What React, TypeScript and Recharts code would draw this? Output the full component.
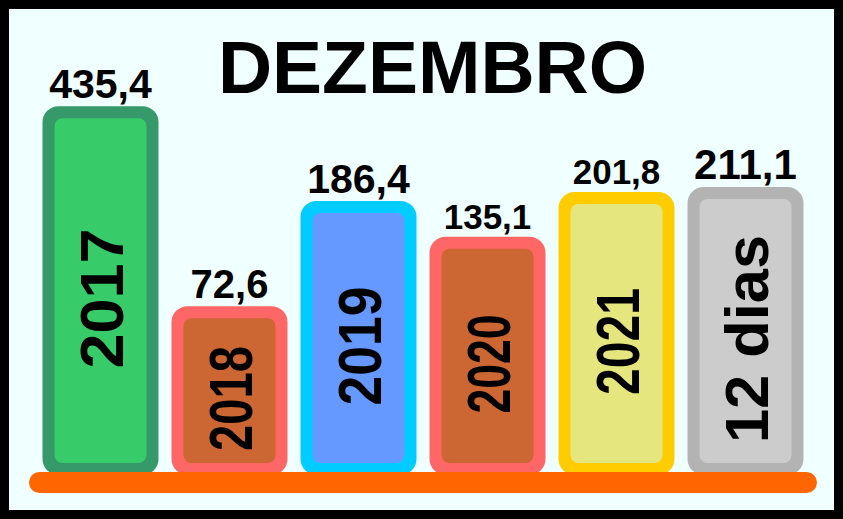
import { BarChart, Bar, XAxis, YAxis, LabelList } from "recharts";

const NAMES = ["2017", "2018", "2019", "2020", "2021", "12 dias"];
const TOTALS = [435.4, 72.6, 186.4, 135.1, 201.8, 211.1];

// per-bar look: inner fill, thick rim, value label size, length of the rotated name
const BAR_STYLES = [
  { fill: "#37cb69", rim: "#35996a", valueSize: 41, nameLength: 140 },
  { fill: "#cc6633", rim: "#ff6666", valueSize: 40, nameLength: 105 },
  { fill: "#6699ff", rim: "#00ccff", valueSize: 41, nameLength: 119 },
  { fill: "#cc6633", rim: "#ff6666", valueSize: 35, nameLength: 99 },
  { fill: "#e6e67f", rim: "#ffcc00", valueSize: 35, nameLength: 107 },
  { fill: "#cccccc", rim: "#b3b3b3", valueSize: 42, nameLength: 208 },
];

const data = NAMES.map((name, i) => ({ name, total: TOTALS[i] }));

const FONT = "'Liberation Sans', Arial, sans-serif";
const RIM = 12;

const fmt = (v: number) => v.toFixed(1).replace(".", ",");

function RimBar(props: any) {
  const { x, y, width, height, index } = props;
  const s = BAR_STYLES[index];
  return (
    <g>
      <rect x={x} y={y} width={width} height={height} rx={16} fill={s.rim} />
      <rect
        x={x + RIM}
        y={y + RIM}
        width={width - 2 * RIM}
        height={Math.max(height - 2 * RIM, 0)}
        rx={8}
        fill={s.fill}
      />
    </g>
  );
}

function ValueLabel(props: any) {
  const { x, y, width, value, index } = props;
  const s = BAR_STYLES[index];
  return (
    <text
      x={x + width / 2}
      y={y - 8}
      textAnchor="middle"
      fontFamily={FONT}
      fontWeight="bold"
      fontSize={s.valueSize}
      fill="#000"
    >
      {fmt(Number(value))}
    </text>
  );
}

function NameLabel(props: any) {
  const { x, y, width, height, value, index } = props;
  const s = BAR_STYLES[index];
  const fs = 62;
  const cx = x + width / 2;
  const cy = y + height / 2 + 8;
  return (
    <text
      x={cx}
      y={cy + fs * 0.358}
      transform={`rotate(-90 ${cx} ${cy})`}
      textAnchor="middle"
      fontFamily={FONT}
      fontWeight="bold"
      fontSize={fs}
      textLength={s.nameLength}
      lengthAdjust="spacingAndGlyphs"
      fill="#000"
    >
      {value}
    </text>
  );
}

export default function App() {
  return (
    <div
      style={{
        position: "relative",
        width: 843,
        height: 519,
        boxSizing: "border-box",
        border: "9px solid #000",
        background: "#f0ffff",
      }}
    >
      <style>{"body{margin:0}"}</style>
      <div style={{ position: "absolute", left: -9, top: -9 }}>
        <BarChart
          width={843}
          height={519}
          data={data}
          margin={{ top: 105, right: 33.5, bottom: 44, left: 35.5 }}
          barSize={116}
        >
          <XAxis dataKey="name" hide />
          <YAxis type="number" scale="log" domain={[16, 440]} allowDataOverflow hide />
          <Bar dataKey="total" shape={<RimBar />} isAnimationActive={false}>
            <LabelList dataKey="total" content={<ValueLabel />} />
            <LabelList dataKey="name" content={<NameLabel />} />
          </Bar>
        </BarChart>
        <svg
          width={843}
          height={519}
          style={{ position: "absolute", left: 0, top: 0, pointerEvents: "none" }}
        >
          <text
            x={432.5}
            y={93}
            textAnchor="middle"
            fontFamily={FONT}
            fontWeight="bold"
            fontSize={75}
            fill="#000"
          >
            DEZEMBRO
          </text>
          {/* orange floor line the bars stand on */}
          <rect x={29} y={472} width={788} height={21} rx={10.5} fill="#ff6600" />
        </svg>
      </div>
    </div>
  );
}
